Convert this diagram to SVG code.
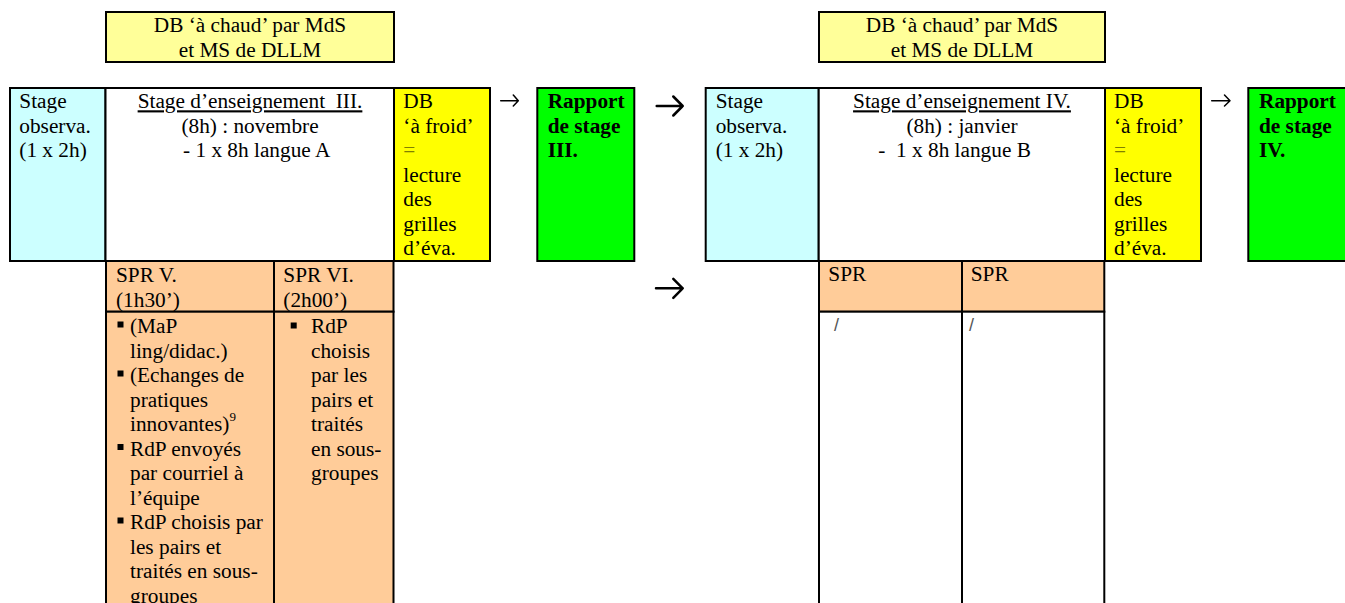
<svg xmlns="http://www.w3.org/2000/svg" width="1345" height="603" viewBox="0 0 1345 603">
<style>
text{font-family:"Liberation Serif","Times New Roman",serif;font-size:21.3px;fill:#000}
.b{font-weight:bold}
.c{text-anchor:middle}
.u{text-decoration:underline}
.pre{white-space:pre}
.box{stroke:#000;stroke-width:2}
.cy{fill:#CCFFFF}.wh{fill:#FFFFFF}.ye{fill:#FFFF00}.ly{fill:#FFFF99}.gr{fill:#00FF00}.or{fill:#FFCC99}
.arr{fill:none;stroke:#000;stroke-linecap:round;stroke-linejoin:round}
.bul{fill:#000}
</style>
<rect width="1345" height="603" fill="#fff"/>

<g id="top-left">
<rect class="box ly" x="106" y="12" width="288" height="50"/>
<text class="c" x="250" y="32.3">DB ‘à chaud’ par MdS</text>
<text class="c" x="250" y="56.7">et MS de DLLM</text>
</g>
<g id="top-right">
<rect class="box ly" x="819" y="12" width="286" height="50"/>
<text class="c" x="962" y="32.3">DB ‘à chaud’ par MdS</text>
<text class="c" x="962" y="56.7">et MS de DLLM</text>
</g>

<g id="obs-left">
<rect class="box cy" x="10" y="88" width="95.5" height="173"/>
<text x="19.3" y="108.3">Stage</text>
<text x="19.3" y="132.8">observa.</text>
<text x="19.3" y="157.3">(1 x 2h)</text>
</g>
<g id="ens-left">
<rect class="box wh" x="105.5" y="88" width="288.5" height="173"/>
<text class="c u pre" x="250" y="108.3">Stage d’enseignement  III.</text>
<text class="c" x="250" y="132.8">(8h) : novembre</text>
<text x="183" y="157.3">- 1 x 8h langue A</text>
</g>
<g id="froid-left">
<rect class="box ye" x="394" y="88" width="96" height="173"/>
<text x="403.3" y="108.3">DB</text>
<text x="403.3" y="132.8">‘à froid’</text>
<text x="403.3" y="157.3" style="fill:#808000">=</text>
<text x="403.3" y="181.8">lecture</text>
<text x="403.3" y="206.3">des</text>
<text x="403.3" y="230.8">grilles</text>
<text x="403.3" y="255.3">d’éva.</text>
</g>
<g id="rapport-left">
<rect class="box gr" x="537.3" y="88" width="97" height="173"/>
<text class="b" x="547.7" y="108.3">Rapport</text>
<text class="b" x="547.7" y="132.8">de stage</text>
<text class="b" x="547.7" y="157.3">III.</text>
</g>
<g id="spr5">
<rect class="box or" x="106" y="261" width="168" height="50.7"/>
<rect class="box or" x="106" y="311.7" width="168" height="300"/>
<text x="116" y="282">SPR V.</text>
<text x="116" y="306.5">(1h30’)</text>
<rect class="bul" x="117.5" y="321.5" width="6" height="6"/>
<text x="130" y="333">(MaP</text>
<text x="130" y="357.5">ling/didac.)</text>
<rect class="bul" x="117.5" y="370.5" width="6" height="6"/>
<text x="130" y="382">(Echanges de</text>
<text x="130" y="406.5">pratiques</text>
<text x="130" y="431">innovantes)<tspan dy="-10" style="font-size:13px">9</tspan></text>
<rect class="bul" x="117.5" y="444" width="6" height="6"/>
<text x="130" y="455.5">RdP envoyés</text>
<text x="130" y="480">par courriel à</text>
<text x="130" y="504.5">l’équipe</text>
<rect class="bul" x="117.5" y="517.5" width="6" height="6"/>
<text x="130" y="529">RdP choisis par</text>
<text x="130" y="553.5">les pairs et</text>
<text x="130" y="578">traités en sous-</text>
<text x="130" y="602.5">groupes</text>
</g>
<g id="spr6">
<rect class="box or" x="274" y="261" width="119.5" height="50.7"/>
<rect class="box or" x="274" y="311.7" width="119.5" height="300"/>
<text x="283.3" y="282">SPR VI.</text>
<text x="283.3" y="306.5">(2h00’)</text>
<rect class="bul" x="290.7" y="322.5" width="6" height="6"/>
<text x="311" y="333">RdP</text>
<text x="311" y="357.5">choisis</text>
<text x="311" y="382">par les</text>
<text x="311" y="406.5">pairs et</text>
<text x="311" y="431">traités</text>
<text x="311" y="455.5">en sous-</text>
<text x="311" y="480">groupes</text>
</g>

<g id="obs-right">
<rect class="box cy" x="705.7" y="88" width="113" height="173"/>
<text x="715.7" y="108.3">Stage</text>
<text x="715.7" y="132.8">observa.</text>
<text x="715.7" y="157.3">(1 x 2h)</text>
</g>
<g id="ens-right">
<rect class="box wh" x="818.7" y="88" width="286.3" height="173"/>
<text class="c u" x="962" y="108.3">Stage d’enseignement IV.</text>
<text class="c" x="962" y="132.8">(8h) : janvier</text>
<text class="pre" x="878.3" y="157.3">-  1 x 8h langue B</text>
</g>
<g id="froid-right">
<rect class="box ye" x="1105" y="88" width="96" height="173"/>
<text x="1114" y="108.3">DB</text>
<text x="1114" y="132.8">‘à froid’</text>
<text x="1114" y="157.3" style="fill:#808000">=</text>
<text x="1114" y="181.8">lecture</text>
<text x="1114" y="206.3">des</text>
<text x="1114" y="230.8">grilles</text>
<text x="1114" y="255.3">d’éva.</text>
</g>
<g id="rapport-right">
<rect class="box gr" x="1248.3" y="88" width="110" height="173"/>
<text class="b" x="1259" y="108.3">Rapport</text>
<text class="b" x="1259" y="132.8">de stage</text>
<text class="b" x="1259" y="157.3">IV.</text>
</g>
<g id="spr-right-1">
<rect class="box or" x="819" y="261" width="143" height="50.7"/>
<rect class="box wh" x="819" y="311.7" width="143" height="300"/>
<text x="828.3" y="281">SPR</text>
<text x="834" y="331" style="fill:#555;font-family:'Liberation Sans',Arial,sans-serif;font-size:18px">/</text>
</g>
<g id="spr-right-2">
<rect class="box or" x="962" y="261" width="142.3" height="50.7"/>
<rect class="box wh" x="962" y="311.7" width="142.3" height="300"/>
<text x="970.7" y="281">SPR</text>
<text x="969" y="331" style="fill:#555;font-family:'Liberation Sans',Arial,sans-serif;font-size:18px">/</text>
</g>

<g id="connectors">
<path class="arr" stroke-width="1.5" d="M500.7 100.7H518.3M513.3 95L518.3 100.7L513.3 106"/>
<path class="arr" stroke-width="2.5" d="M656.7 106H682.7M673.3 96.5L682.7 106L673.3 115.5"/>
<path class="arr" stroke-width="1.5" d="M1211.7 100.7H1230M1224.5 95L1230 100.7L1224.5 106"/>
<path class="arr" stroke-width="2.5" d="M656 288.3H682.7M673.3 278.8L682.7 288.3L673.3 297.8"/>
</g>
</svg>
